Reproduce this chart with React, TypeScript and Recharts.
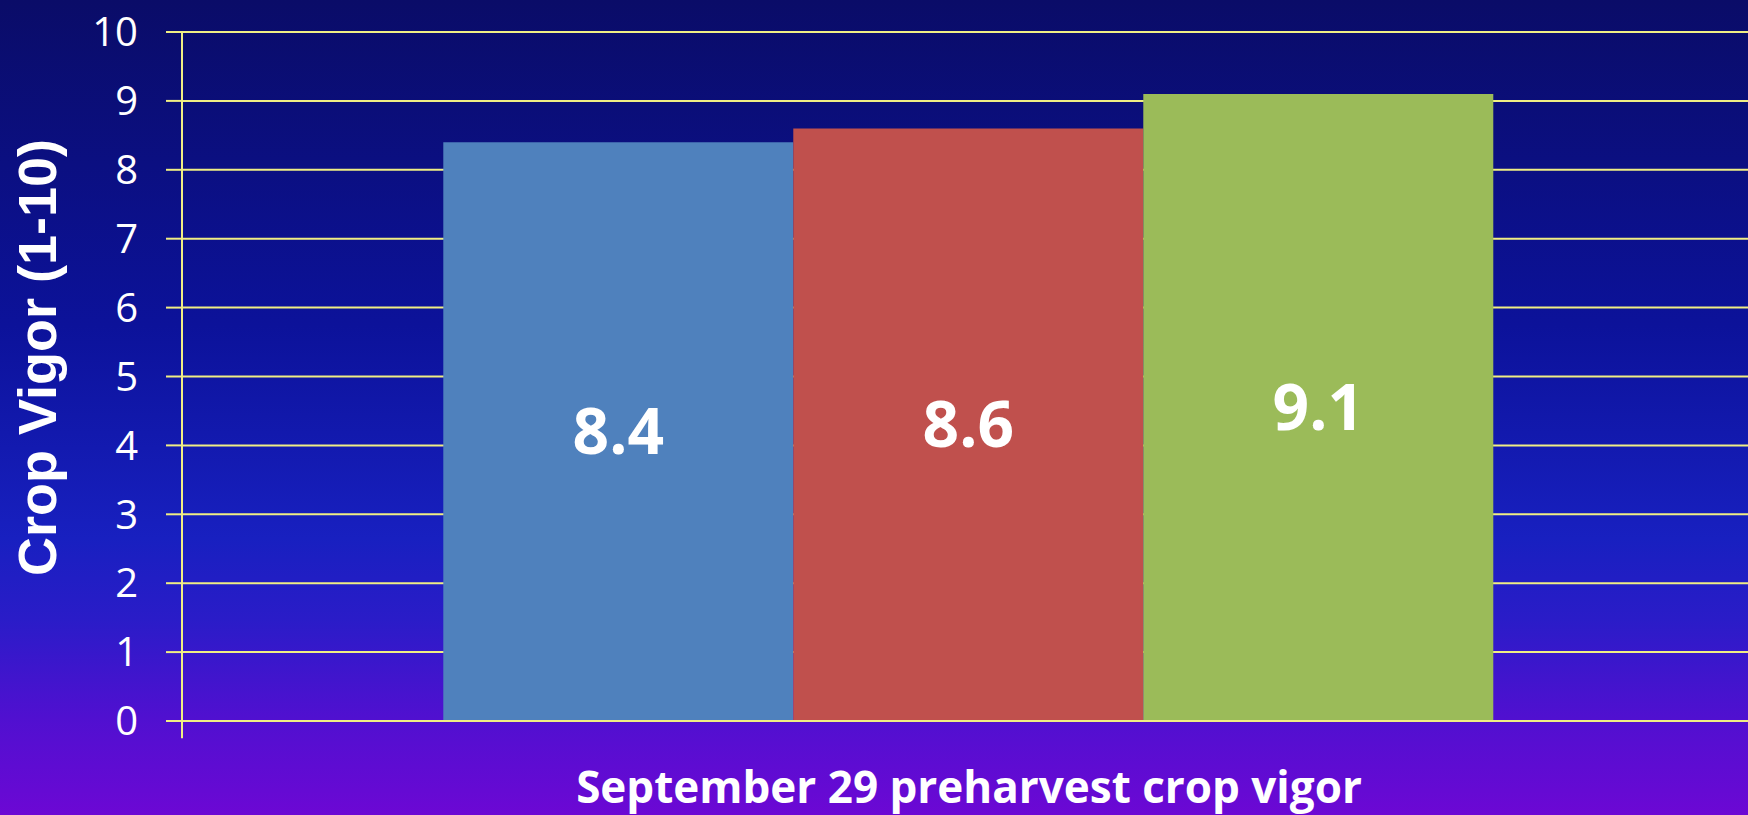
import React from "react";
import {
  BarChart,
  Bar,
  XAxis,
  YAxis,
  CartesianGrid,
  LabelList,
  ReferenceLine,
} from "recharts";

const categories = ["September 29 preharvest crop vigor"];
const series1 = [8.4];
const series2 = [8.6];
const series3 = [9.1];
const yTicks = [0, 1, 2, 3, 4, 5, 6, 7, 8, 9, 10];

const seriesNames = ["Treatment A", "Treatment B", "Treatment C"];
const seriesColors = ["#4f81bd", "#c0504d", "#9bbb59"];

const data = categories.map((c, i) => ({
  name: c,
  s1: series1[i],
  s2: series2[i],
  s3: series3[i],
}));

const GRID = "#f0ee84";

const YLabel = (props: any) => {
  const vb = props.viewBox || {};
  const cx = vb.x + 37;
  const cy = vb.y + vb.height / 2 - 19;
  return (
    <text
      x={cx}
      y={cy}
      transform={`rotate(-90, ${cx}, ${cy})`}
      textAnchor="middle"
      dominantBaseline="central"
      fill="#ffffff"
      fontFamily="'Liberation Sans', Arial, sans-serif"
      fontWeight="bold"
      fontSize={54}
    >
      Crop Vigor (1-10)
    </text>
  );
};

const XLabel = (props: any) => {
  const vb = props.viewBox || {};
  const cx = vb.x + vb.width / 2;
  const cy = vb.y + 65;
  return (
    <text
      x={cx}
      y={cy}
      textAnchor="middle"
      dominantBaseline="central"
      fill="#ffffff"
      fontFamily="'Open Sans', sans-serif"
      fontWeight="bold"
      fontSize={44}
    >
      {categories[0]}
    </text>
  );
};

export default function App() {
  const keys = ["s1", "s2", "s3"];
  return (
    <div
      style={{
        position: "absolute",
        left: 0,
        top: 0,
        width: 1748,
        height: 815,
        overflow: "hidden",
        background:
          "linear-gradient(to bottom, #0a0c68 0%, #0c129a 40%, #1820c0 66%, #2a1cc8 76%, #5010d0 88%, #6c08d4 100%)",
      }}
    >
      <BarChart
        width={1756}
        height={815}
        data={data}
        margin={{ top: 32, right: 0, bottom: 0, left: 0 }}
        barGap={0}
        barCategoryGap="16.6%"
      >
        <CartesianGrid vertical={false} stroke={GRID} strokeWidth={2} />
        <XAxis
          dataKey="name"
          height={94}
          tick={false}
          tickLine={false}
          axisLine={{ stroke: GRID, strokeWidth: 2 }}
          label={<XLabel />}
        />
        <YAxis
          width={182}
          domain={[0, 10]}
          ticks={yTicks}
          interval={0}
          tickSize={16}
          tickMargin={28}
          tickLine={{ stroke: GRID, strokeWidth: 2 }}
          axisLine={{ stroke: GRID, strokeWidth: 2 }}
          tick={{
            fill: "#ffffff",
            fontSize: 40,
            fontFamily: "'Open Sans', sans-serif",
          }}
          label={<YLabel />}
        />
        <ReferenceLine
          segment={[
            { x: categories[0], y: 0 },
            { x: categories[0], y: -0.25 },
          ]}
          position="start"
          ifOverflow="visible"
          stroke={GRID}
          strokeWidth={2}
        />
        {keys.map((k, i) => (
          <Bar
            key={k}
            dataKey={k}
            name={seriesNames[i]}
            fill={seriesColors[i]}
            isAnimationActive={false}
          >
            <LabelList
              dataKey={k}
              position="center"
              fill="#ffffff"
              fontSize={64}
              fontWeight="bold"
              fontFamily="'Open Sans', sans-serif"
            />
          </Bar>
        ))}
      </BarChart>
    </div>
  );
}
